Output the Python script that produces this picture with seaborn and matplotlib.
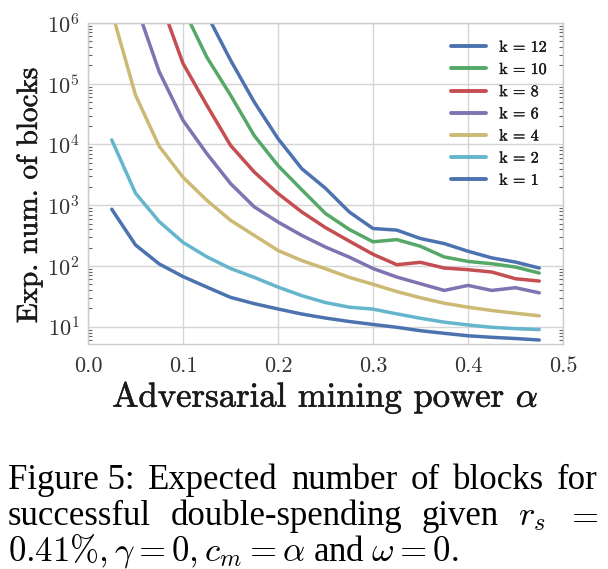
import numpy as np
import pandas as pd
import matplotlib
matplotlib.use("Agg")
import matplotlib.pyplot as plt
import matplotlib.patheffects as pe
import seaborn as sns

# values
alpha = [0.025, 0.05, 0.075, 0.1, 0.125, 0.15, 0.175, 0.2, 0.225, 0.25,
         0.275, 0.3, 0.325, 0.35, 0.375, 0.4, 0.425, 0.45, 0.475]
nan = np.nan
k12 = [nan, nan, nan, nan, 1.4e6, 245000, 50000, 12500, 4000, 1900,
       776, 414, 390, 283, 234, 175, 136, 116, 92.6]
k10 = [nan, nan, nan, 1.76e6, 275000, 65000, 14000, 4500, 1800, 730,
       400, 250, 272, 211, 141, 119, 109, 96, 76.6]
k8 = [nan, nan, 2.6e6, 216000, 44400, 9700, 3520, 1560, 776, 428,
      257, 156, 105, 115, 92.6, 87, 79.6, 61.7, 56.5]
k6 = [nan, 2.1e6, 157000, 25000, 7100, 2280, 940, 530, 319, 205,
      140, 91, 65.8, 51, 39.6, 47.9, 39.6, 43.9, 36.2]
k4 = [1.55e6, 65000, 9300, 2890, 1210, 566, 319, 180, 123, 90,
      65, 50, 38, 30, 24.4, 21, 18.5, 16.7, 15.1]
k2 = [11900, 1580, 537, 245, 142, 91, 65, 45, 32.5, 25,
      21, 19.5, 16.3, 13.8, 11.9, 10.7, 9.8, 9.3, 9.0]
k1 = [860, 222, 108, 67, 45, 30.5, 24, 19.6, 16.2, 13.9,
      12.2, 10.9, 9.8, 8.6, 7.8, 7.1, 6.7, 6.4, 6.05]

series = {"k = 12": k12, "k = 10": k10, "k = 8": k8, "k = 6": k6,
          "k = 4": k4, "k = 2": k2, "k = 1": k1}
labels = list(series.keys())
colors = ["#4C72B0", "#55A868", "#C44E52", "#8172B2", "#CCB974", "#64B5CD", "#4C72B0"]

df = pd.concat([pd.DataFrame({"alpha": alpha, "blocks": v, "k": name})
                for name, v in series.items()]).dropna()

sns.set_theme(style="whitegrid")
plt.rcParams["font.family"] = ["cmr10", "DejaVu Serif"]
plt.rcParams["mathtext.fontset"] = "cm"
plt.rcParams["axes.formatter.use_mathtext"] = True

fig = plt.figure(figsize=(6.08, 5.69), dpi=100)
ax = fig.add_axes([88 / 608, 1 - 344 / 569, 475 / 608, 321 / 569])

sns.lineplot(data=df, x="alpha", y="blocks", hue="k", hue_order=labels,
             palette=dict(zip(labels, colors)), linewidth=2.5, ax=ax, legend=False)

ax.set_yscale("log")
ax.set_xlim(0, 0.5)
ax.set_ylim(5.2, 1e6)
ax.set_xticks([0.0, 0.1, 0.2, 0.3, 0.4, 0.5])
ax.set_xticklabels(["0.0", "0.1", "0.2", "0.3", "0.4", "0.5"])
ax.tick_params(axis="both", which="major", labelsize=16, colors="#262626",
               labelcolor="#333333", length=0, pad=6)
ax.tick_params(axis="x", which="major", pad=9)
ax.tick_params(axis="y", which="minor", left=True, right=True, direction="in",
               length=3, width=0.8, color="#666666")
ax.grid(True, which="major", color="#d5d5d5", linewidth=1.0)
for sp in ax.spines.values():
    sp.set_color("#cccccc")
    sp.set_linewidth(1.0)

heavy = [pe.withStroke(linewidth=0.4, foreground="#1a1a1a")]
ax.set_xlabel(r"Adversarial mining power $\alpha$", family="cmr10", fontsize=25,
              color="#1a1a1a", labelpad=2, path_effects=heavy)
ax.set_ylabel("Exp. num. of blocks", family="cmr10", fontsize=21,
              color="#1a1a1a", path_effects=heavy)
ax.yaxis.set_label_coords(-0.095, 0.463)

handles = [plt.Line2D([], [], color=c, linewidth=2.8) for c in colors]
leg = ax.legend(handles, labels, loc="upper right", bbox_to_anchor=(0.996, 0.99),
                frameon=False, prop={"family": "cmr10", "size": 11.5},
                handlelength=2.2, handletextpad=0.8, labelspacing=0.5)
for t in leg.get_texts():
    t.set_color("#1a1a1a")
    t.set_path_effects([pe.withStroke(linewidth=0.3, foreground="#1a1a1a")])

# caption, justified line by line
cap_kw = dict(family="Liberation Serif", fontsize=25, math_fontfamily="cm",
              color="black", va="baseline")
x0, x1 = 8 / 608, 598 / 608
lines = [
    (["Figure 5:", "Expected", "number", "of", "blocks", "for"], 1 - 489 / 569),
    (["successful", "double-spending", "given", r"$r_s$", r"$=$"], 1 - 525 / 569),
]
fig.canvas.draw()
renderer = fig.canvas.get_renderer()
for words, yb in lines:
    texts = [fig.text(0, yb, w, **cap_kw) for w in words]
    widths = [t.get_window_extent(renderer).width / fig.bbox.width for t in texts]
    gap = (x1 - x0 - sum(widths)) / (len(words) - 1)
    x = x0
    for t, w in zip(texts, widths):
        t.set_x(x)
        x += w + gap
fig.text(x0, 1 - 561 / 569, r"$0.41\%, \gamma = 0, c_m = \alpha$ and $\omega = 0$.", **cap_kw)

fig.savefig("out.png", dpi=100)
